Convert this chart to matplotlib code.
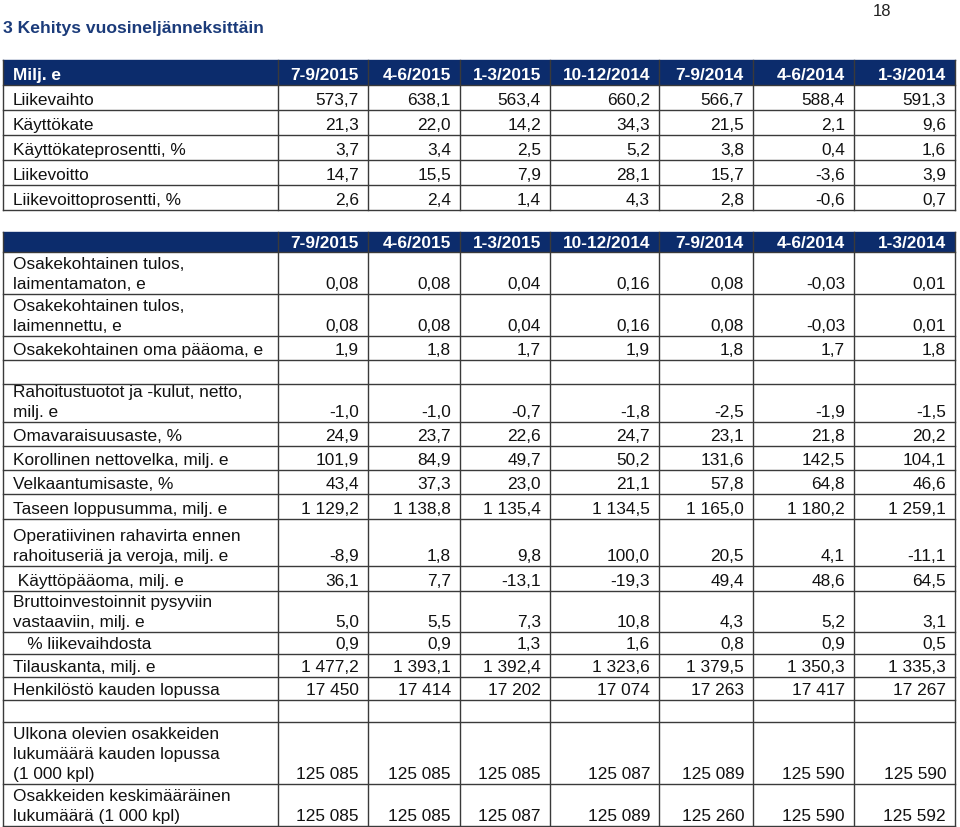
import matplotlib
matplotlib.use("Agg")
import matplotlib.pyplot as plt
from matplotlib.patches import Rectangle

# ---- data -------------------------------------------------------------
periods = ["7-9/2015", "4-6/2015", "1-3/2015", "10-12/2014",
           "7-9/2014", "4-6/2014", "1-3/2014"]

top_labels = ["Liikevaihto", "Käyttökate", "Käyttökateprosentti, %",
              "Liikevoitto", "Liikevoittoprosentti, %"]
top_values = [
    [573.7, 638.1, 563.4, 660.2, 566.7, 588.4, 591.3],
    [21.3, 22.0, 14.2, 34.3, 21.5, 2.1, 9.6],
    [3.7, 3.4, 2.5, 5.2, 3.8, 0.4, 1.6],
    [14.7, 15.5, 7.9, 28.1, 15.7, -3.6, 3.9],
    [2.6, 2.4, 1.4, 4.3, 2.8, -0.6, 0.7],
]
top_decimals = [1, 1, 1, 1, 1]

low_labels = [
    "Osakekohtainen tulos,\nlaimentamaton, e",
    "Osakekohtainen tulos,\nlaimennettu, e",
    "Osakekohtainen oma pääoma, e",
    "",
    "Rahoitustuotot ja -kulut, netto,\nmilj. e",
    "Omavaraisuusaste, %",
    "Korollinen nettovelka, milj. e",
    "Velkaantumisaste, %",
    "Taseen loppusumma, milj. e",
    "Operatiivinen rahavirta ennen\nrahoituseriä ja veroja, milj. e",
    " Käyttöpääoma, milj. e",
    "Bruttoinvestoinnit pysyviin\nvastaaviin, milj. e",
    "   % liikevaihdosta",
    "Tilauskanta, milj. e",
    "Henkilöstö kauden lopussa",
    "",
    "Ulkona olevien osakkeiden\nlukumäärä kauden lopussa\n(1 000 kpl)",
    "Osakkeiden keskimääräinen\nlukumäärä (1 000 kpl)",
]
low_values = [
    [0.08, 0.08, 0.04, 0.16, 0.08, -0.03, 0.01],
    [0.08, 0.08, 0.04, 0.16, 0.08, -0.03, 0.01],
    [1.9, 1.8, 1.7, 1.9, 1.8, 1.7, 1.8],
    None,
    [-1.0, -1.0, -0.7, -1.8, -2.5, -1.9, -1.5],
    [24.9, 23.7, 22.6, 24.7, 23.1, 21.8, 20.2],
    [101.9, 84.9, 49.7, 50.2, 131.6, 142.5, 104.1],
    [43.4, 37.3, 23.0, 21.1, 57.8, 64.8, 46.6],
    [1129.2, 1138.8, 1135.4, 1134.5, 1165.0, 1180.2, 1259.1],
    [-8.9, 1.8, 9.8, 100.0, 20.5, 4.1, -11.1],
    [36.1, 7.7, -13.1, -19.3, 49.4, 48.6, 64.5],
    [5.0, 5.5, 7.3, 10.8, 4.3, 5.2, 3.1],
    [0.9, 0.9, 1.3, 1.6, 0.8, 0.9, 0.5],
    [1477.2, 1393.1, 1392.4, 1323.6, 1379.5, 1350.3, 1335.3],
    [17450, 17414, 17202, 17074, 17263, 17417, 17267],
    None,
    [125085, 125085, 125085, 125087, 125089, 125590, 125590],
    [125085, 125085, 125087, 125089, 125260, 125590, 125592],
]
low_decimals = [2, 2, 1, 0, 1, 1, 1, 1, 1, 1, 1, 1, 1, 1, 0, 0, 0, 0]

# ---- layout (pixels) --------------------------------------------------
W, H = 960, 827
col_edges = [3, 278, 368, 460, 550, 659, 753, 854, 955]
top_edges = [60, 85, 110, 135, 160, 185, 210]
low_edges = [232, 252, 294, 336, 360, 384, 422, 446, 470, 494, 519, 566,
             591, 632, 654, 677, 700, 722, 784, 826]
NAVY = "#0c2c6c"
TITLE = "#1b3b7a"
GRID = "#3a3a3a"
FS = 12.4
LINE = 20
FONT = "Liberation Sans"


def fmt(v, d):
    s = f"{v:,.{d}f}"
    return s.replace(",", " ").replace(".", ",")


fig = plt.figure(figsize=(W / 100, H / 100), dpi=100)
ax = fig.add_axes([0, 0, 1, 1])
ax.set_xlim(0, W)
ax.set_ylim(H, 0)
ax.axis("off")

ax.text(3, 29, "3 Kehitys vuosineljänneksittäin", ha="left", va="center",
        fontsize=12.6, weight="bold", color=TITLE, family=FONT)
ax.text(882, 11, "18", ha="center", va="center", fontsize=12, color="#222222",
        family=FONT)


def draw_table(edges, header_first, labels, values, decimals, hdr_pad):
    x0, x1 = col_edges[0], col_edges[-1]
    ax.add_patch(Rectangle((x0, edges[0]), x1 - x0, edges[1] - edges[0],
                           facecolor=NAVY, edgecolor="none", zorder=1))
    base = edges[1] - hdr_pad
    ax.text(13, base, header_first, ha="left", va="baseline", fontsize=FS,
            weight="bold", color="white", family=FONT, zorder=3)
    for j, p in enumerate(periods):
        ax.text(col_edges[j + 2] - 9, base, p, ha="right", va="baseline",
                fontsize=FS, weight="bold", color="white", family=FONT, zorder=3)
    for i, lab in enumerate(labels):
        bottom = edges[i + 2]
        lines = lab.split("\n")
        n = len(lines)
        for k, line in enumerate(lines):
            ax.text(13, bottom - 5 - LINE * (n - 1 - k), line, ha="left",
                    va="baseline", fontsize=FS, color="#111111", family=FONT,
                    zorder=3)
        row = values[i]
        if row is None:
            continue
        for j, v in enumerate(row):
            ax.text(col_edges[j + 2] - 9, bottom - 5, fmt(v, decimals[i]),
                    ha="right", va="baseline", fontsize=FS, color="#111111",
                    family=FONT, zorder=3)
    # grid
    for y in edges[1:]:
        ax.plot([x0, x1], [y, y], color=GRID, lw=1.0, zorder=2)
    ax.plot([x0, x1], [edges[0], edges[0]], color=NAVY, lw=1.0, zorder=2)
    for x in col_edges:
        ax.plot([x, x], [edges[0], edges[-1]], color=GRID, lw=1.0, zorder=2)


draw_table(top_edges, "Milj. e", top_labels, top_values, top_decimals, 5)
draw_table(low_edges, "", low_labels, low_values, low_decimals, 4)

fig.savefig("out.png", dpi=100)
